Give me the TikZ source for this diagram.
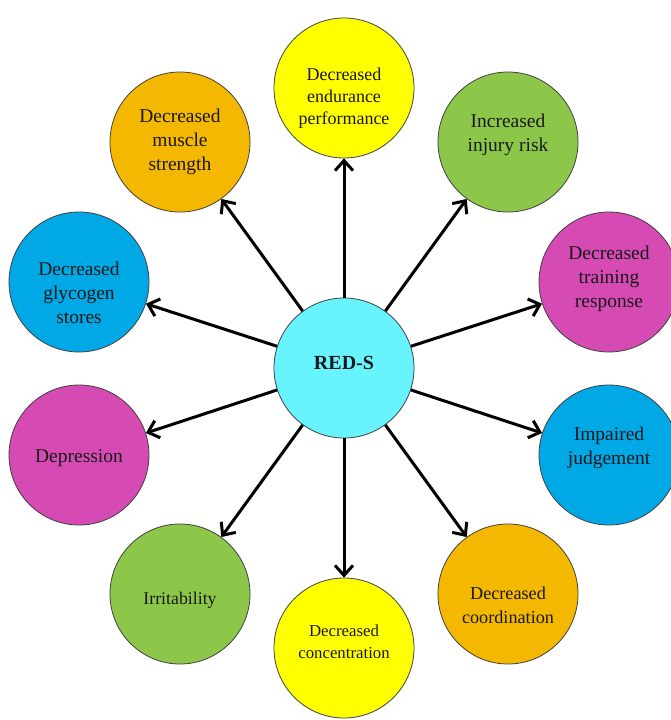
\documentclass[tikz,border=0pt]{standalone}
\usepackage{fontspec}
\setmainfont{Liberation Serif}
\usetikzlibrary{arrows.meta}
\definecolor{cCyan}{RGB}{104,244,255}
\definecolor{cYellow}{RGB}{255,255,0}
\definecolor{cOrange}{RGB}{245,184,0}
\definecolor{cGreen}{RGB}{140,199,74}
\definecolor{cBlue}{RGB}{0,168,230}
\definecolor{cMagenta}{RGB}{214,74,180}
\tikzset{
  circ/.style={circle, draw=black!75, line width=0.8pt, minimum size=140pt, inner sep=0pt},
  txt/.style={align=center, font=\fontsize{19.5}{24}\selectfont, text=black!90},
  smalltxt/.style={align=center, font=\fontsize{17.5}{22}\selectfont, text=black!90},
  arr/.style={line width=3pt, -{Straight Barb[length=10pt,width=18pt,line width=3pt]}}
}
\begin{document}
\begin{tikzpicture}[x=1pt,y=-1pt]
\useasboundingbox (0,0) rectangle (670,720);
\fill[white] (0,0) rectangle (670,720);
\node[circ, fill=cCyan] (c) at (344,368) {};
\node[circ, fill=cYellow] (n1) at (344,88) {};
\node[circ, fill=cGreen] (n2) at (508,142) {};
\node[circ, fill=cMagenta] (n3) at (609,282) {};
\node[circ, fill=cBlue] (n4) at (609,455) {};
\node[circ, fill=cOrange] (n5) at (508,594) {};
\node[circ, fill=cYellow] (n6) at (344,648) {};
\node[circ, fill=cGreen] (n7) at (180,594) {};
\node[circ, fill=cMagenta] (n8) at (79,455) {};
\node[circ, fill=cBlue] (n9) at (79,282) {};
\node[circ, fill=cOrange] (n10) at (180,142) {};
\foreach \n in {n1,n2,n3,n4,n5,n6,n7,n8,n9,n10}{
  \draw[arr] (c) -- (\n);
}
\node[font=\fontsize{20}{24}\selectfont\bfseries, text=black!90] (tc) at ([yshift=5pt]c.center) {RED-S};
\node[smalltxt, font=\fontsize{18}{22}\selectfont] (t1) at ([yshift=-10pt]n1.center) {Decreased\\endurance\\performance};
\node[txt] (t2) at ([yshift=7pt]n2.center) {Increased\\injury risk};
\node[txt] (t3) at ([yshift=3pt]n3.center) {Decreased\\training\\response};
\node[txt] (t4) at ([yshift=7pt]n4.center) {Impaired\\judgement};
\node[txt, font=\fontsize{18.2}{24}\selectfont] (t5) at ([yshift=-11pt]n5.center) {Decreased\\coordination};
\node[smalltxt, font=\fontsize{16.8}{22}\selectfont] (t6) at ([yshift=6pt]n6.center) {Decreased\\concentration};
\node[txt, font=\fontsize{17.8}{24}\selectfont] (t7) at ([yshift=-6pt]n7.center) {Irritability};
\node[txt] (t8) at ([yshift=-3pt]n8.center) {Depression};
\node[txt] (t9) at ([yshift=-11pt]n9.center) {Decreased\\glycogen\\stores};
\node[txt] (t10) at (n10.center) {Decreased\\muscle\\strength};
\end{tikzpicture}
\end{document}
